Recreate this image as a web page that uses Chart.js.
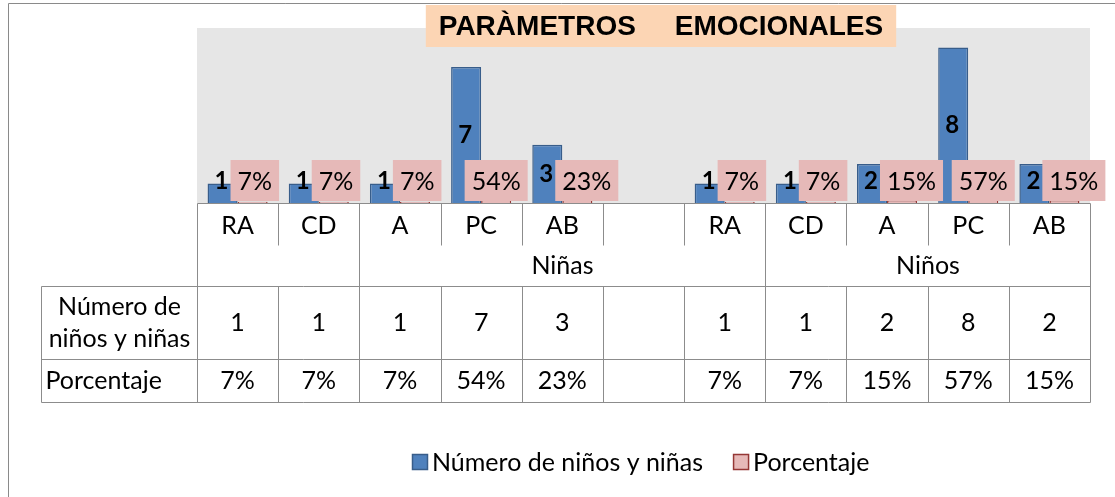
<!DOCTYPE html>
<html>
<head>
<meta charset="utf-8">
<script src="https://cdn.jsdelivr.net/npm/chart.js@4.4.0/dist/chart.umd.min.js"></script>
<style>
  html, body { margin: 0; padding: 0; background: #fff; }
  canvas { display: block; }
</style>
</head>
<body>
<canvas id="emocionalesChart" width="1115" height="497"></canvas>
<script>
// datos
const categories = ['RA', 'CD', 'A', 'PC', 'AB', '', 'RA', 'CD', 'A', 'PC', 'AB'];
const groupLabels = ['', 'Niñas', 'Niños'];
const groupSpans = [2, 5, 4];
const numeroValues = [1, 1, 1, 7, 3, null, 1, 1, 2, 8, 2];
const porcentajeValues = [0.07, 0.07, 0.07, 0.54, 0.23, null, 0.07, 0.07, 0.15, 0.57, 0.15];
const seriesNames = ['Número de niños y niñas', 'Porcentaje'];
const rowHeaders = [['Número de', 'niños y niñas'], ['Porcentaje']];
const chartTitle = 'PARÀMETROS     EMOCIONALES';

const FONT = 'Lato, "Open Sans", sans-serif';
const GRID = '#8c8c8c';

function pct(v) { return Math.round(v * 100) + '%'; }

const bgPlugin = {
  id: 'plotBg',
  beforeDraw(chart) {
    const { ctx, chartArea: a } = chart;
    ctx.save();
    ctx.fillStyle = '#fff';
    ctx.fillRect(0, 0, chart.width, chart.height);
    ctx.fillStyle = '#e6e6e6';
    ctx.fillRect(a.left, a.top, a.right - a.left, a.bottom - a.top);
    // marco exterior
    ctx.strokeStyle = '#8a8a8a';
    ctx.lineWidth = 1;
    ctx.beginPath();
    ctx.moveTo(8.5, chart.height);
    ctx.lineTo(8.5, 3.5);
    ctx.lineTo(chart.width, 3.5);
    ctx.stroke();
    ctx.restore();
  }
};

const labelPlugin = {
  id: 'barLabels',
  afterDatasetsDraw(chart) {
    const ctx = chart.ctx;
    const base = chart.chartArea.bottom;
    const boxTop = base - 43, boxH = 41;
    const numMeta = chart.getDatasetMeta(0).data;
    ctx.save();
    ctx.textAlign = 'center';
    ctx.textBaseline = 'middle';
    // numero (negrita)
    ctx.font = 'bold 24px ' + FONT;
    ctx.fillStyle = '#000';
    const labelRight = [];
    numMeta.forEach((bar, i) => {
      const v = numeroValues[i];
      if (v == null) return;
      const y = Math.min((bar.y + base) / 2, base - 22);
      ctx.fillText(String(v), bar.x - 1, y);
      // si la etiqueta queda a la altura de la caja, la caja se aparta
      labelRight[i] = y + 10 > boxTop ? bar.x - 1 + ctx.measureText(String(v)).width / 2 : -Infinity;
    });
    // porcentaje en caja rosa
    ctx.font = '25px ' + FONT;
    chart.getDatasetMeta(1).data.forEach((bar, i) => {
      const v = porcentajeValues[i];
      if (v == null) return;
      const t = pct(v);
      const w = ctx.measureText(t).width + 14;
      const bx = Math.max(bar.x - w / 2, labelRight[i] + 2);
      ctx.fillStyle = '#e6b9b8';
      ctx.fillRect(bx, boxTop, w, boxH);
      ctx.fillStyle = '#000';
      ctx.fillText(t, bx + w / 2, boxTop + boxH / 2 + 1);
    });
    ctx.restore();
  }
};

const tablePlugin = {
  id: 'dataTable',
  afterDraw(chart) {
    const ctx = chart.ctx;
    const xs = chart.scales.x;
    const n = categories.length;
    const left = xs.left, right = xs.right;
    const cw = (right - left) / n;
    const edge = i => Math.round(left + i * cw) + 0.5;
    const top = Math.round(chart.chartArea.bottom) + 0.5;
    const r1 = top + 42, r2 = top + 83, r3 = top + 156, r4 = top + 199;
    const headLeft = 41.5;

    ctx.save();
    ctx.strokeStyle = GRID;
    ctx.lineWidth = 1;
    ctx.beginPath();
    // eje
    ctx.moveTo(edge(0), top); ctx.lineTo(edge(n), top);
    // lineas horizontales de la tabla
    [r2, r3, r4].forEach(y => { ctx.moveTo(headLeft, y); ctx.lineTo(edge(n), y); });
    ctx.moveTo(headLeft, r2); ctx.lineTo(headLeft, r4);
    // separadores de grupo
    const groupEdges = [0];
    groupSpans.forEach(s => groupEdges.push(groupEdges[groupEdges.length - 1] + s));
    for (let i = 0; i <= n; i++) {
      const x = edge(i);
      const full = groupEdges.includes(i);
      ctx.moveTo(x, full ? top : r2);
      ctx.lineTo(x, r4);
      if (!full) { ctx.moveTo(x, top); ctx.lineTo(x, r1); }
    }
    ctx.stroke();

    ctx.fillStyle = '#000';
    ctx.textAlign = 'center';
    ctx.textBaseline = 'middle';
    ctx.font = '25px ' + FONT;
    categories.forEach((c, i) => {
      const x = xs.getPixelForValue(i);
      ctx.fillText(c, x, (top + r1) / 2 + 1);
      if (numeroValues[i] != null) ctx.fillText(String(numeroValues[i]), x, (r2 + r3) / 2);
      if (porcentajeValues[i] != null) ctx.fillText(pct(porcentajeValues[i]), x, (r3 + r4) / 2);
    });
    groupLabels.forEach((g, k) => {
      const x = (edge(groupEdges[k]) + edge(groupEdges[k + 1])) / 2;
      ctx.fillText(g, x, (r1 + r2) / 2);
    });
    const hx = (headLeft + edge(0)) / 2;
    ctx.fillText(rowHeaders[0][0], hx, (r2 + r3) / 2 - 16);
    ctx.fillText(rowHeaders[0][1], hx, (r2 + r3) / 2 + 16);
    ctx.textAlign = 'left';
    ctx.fillText(rowHeaders[1][0], headLeft + 4, (r3 + r4) / 2);

    // titulo
    ctx.font = 'bold 28px "Liberation Sans", Arial, sans-serif';
    ctx.textAlign = 'center';
    const tw = ctx.measureText(chartTitle).width;
    const tx = 661;
    ctx.fillStyle = '#fcd5b4';
    ctx.fillRect(tx - tw / 2 - 13, 5, tw + 26, 42);
    ctx.fillStyle = '#000';
    ctx.fillText(chartTitle, tx, 27);

    // leyenda
    ctx.font = '25px ' + FONT;
    ctx.textAlign = 'left';
    const ly = 462;
    let lx = 412;
    chart.data.datasets.forEach((ds) => {
      ctx.fillStyle = ds.backgroundColor;
      ctx.fillRect(lx + 0.5, ly - 7.5, 15, 15);
      ctx.strokeStyle = ds.borderColor;
      ctx.lineWidth = 1.5;
      ctx.strokeRect(lx + 0.5, ly - 7.5, 15, 15);
      ctx.fillStyle = '#000';
      ctx.fillText(ds.label, lx + 20, ly + 1);
      lx += 20 + ctx.measureText(ds.label).width + 30;
    });
    ctx.restore();
  }
};

new Chart(document.getElementById('emocionalesChart'), {
  type: 'bar',
  data: {
    labels: categories,
    datasets: [{
      label: seriesNames[0],
      data: numeroValues,
      backgroundColor: '#4f81bd',
      borderColor: '#385d8a',
      borderWidth: 1.5,
      categoryPercentage: 0.74,
      barPercentage: 1.0
    }, {
      label: seriesNames[1],
      data: porcentajeValues,
      backgroundColor: '#e6b9b8',
      borderColor: '#953735',
      borderWidth: 1.5,
      categoryPercentage: 0.74,
      barPercentage: 1.0
    }]
  },
  options: {
    responsive: false,
    animation: false,
    layout: { padding: { left: 197, right: 25, top: 28, bottom: 294 } },
    plugins: {
      legend: { display: false },
      title: { display: false },
      tooltip: { enabled: false }
    },
    scales: {
      x: { display: false, grid: { display: false } },
      y: { display: false, min: 0, max: 9 }
    }
  },
  plugins: [bgPlugin, labelPlugin, tablePlugin]
});
</script>
</body>
</html>
